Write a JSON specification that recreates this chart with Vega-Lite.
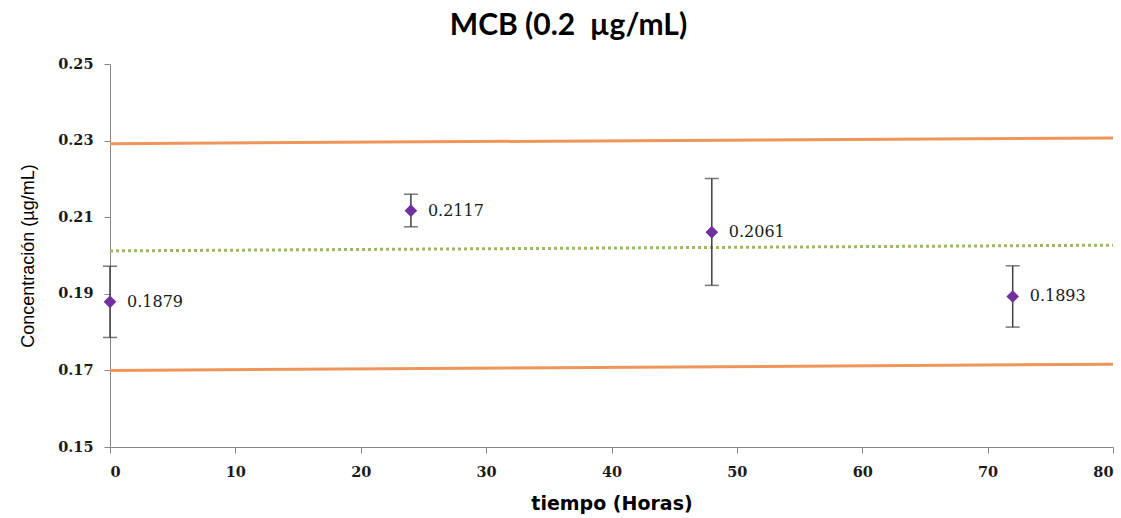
{
  "$schema": "https://vega.github.io/schema/vega-lite/v6.json",
  "width": 1003,
  "height": 383,
  "autosize": {"type": "none"},
  "padding": {"left": 110, "top": 64, "right": 8, "bottom": 71},
  "background": "white",
  "title": {
    "text": "MCB (0.2\u00a0 µg/mL)",
    "font": "Lato",
    "fontSize": 30,
    "fontWeight": "bold",
    "color": "#000000",
    "anchor": "middle",
    "frame": "group",
    "baseline": "alphabetic",
    "offset": -9,
    "dx": -43
  },
  "config": {
    "view": {"stroke": null},
    "axis": {
      "grid": false,
      "domainColor": "#868686",
      "tickColor": "#868686",
      "labelFont": "DejaVu Serif",
      "labelFontSize": 14.5,
      "labelFontWeight": "bold",
      "labelColor": "#1a1a1a",
      "tickSize": 6
    }
  },
  "datasets": {
    "pts": [
      {"t": 0, "c": 0.1879, "lo": 0.1786, "hi": 0.1972},
      {"t": 24, "c": 0.2117, "lo": 0.2075, "hi": 0.216},
      {"t": 48, "c": 0.2061, "lo": 0.1922, "hi": 0.2201},
      {"t": 72, "c": 0.1893, "lo": 0.1813, "hi": 0.1973}
    ],
    "lines": [
      {"serie": "sup", "t": 0, "v": 0.2292},
      {"serie": "sup", "t": 80, "v": 0.2307},
      {"serie": "inf", "t": 0, "v": 0.17},
      {"serie": "inf", "t": 80, "v": 0.1716},
      {"serie": "media", "t": 0, "v": 0.2012},
      {"serie": "media", "t": 80, "v": 0.2027}
    ]
  },
  "layer": [
    {
      "data": {"name": "lines"},
      "transform": [{"filter": "datum.serie != 'media'"}],
      "mark": {"type": "line", "color": "#F0955A", "strokeWidth": 3},
      "encoding": {
        "x": {
          "field": "t", "type": "quantitative",
          "scale": {"domain": [0, 80], "nice": false},
          "axis": {
            "values": [0, 10, 20, 30, 40, 50, 60, 70, 80],
            "title": "tiempo (Horas)",
            "titleFont": "DejaVu Sans",
            "titleFontSize": 19,
            "titleFontWeight": "bold",
            "titleColor": "#000000",
            "titlePadding": 16,
            "labelPadding": 12
          }
        },
        "y": {
          "field": "v", "type": "quantitative",
          "scale": {"domain": [0.15, 0.25], "nice": false, "zero": false},
          "axis": {
            "values": [0.15, 0.17, 0.19, 0.21, 0.23, 0.25],
            "format": ".2f",
            "title": "Concentración (µg/mL)",
            "titleFont": "Liberation Sans",
            "titleFontSize": 18,
            "titleFontWeight": "normal",
            "titleColor": "#000000",
            "titlePadding": 20,
            "labelPadding": 11
          }
        },
        "detail": {"field": "serie"}
      }
    },
    {
      "data": {"name": "lines"},
      "transform": [{"filter": "datum.serie == 'media'"}],
      "mark": {"type": "line", "color": "#9BBB59", "strokeWidth": 3, "strokeDash": [3, 3]},
      "encoding": {
        "x": {"field": "t", "type": "quantitative"},
        "y": {"field": "v", "type": "quantitative"}
      }
    },
    {
      "data": {"name": "pts"},
      "mark": {"type": "rule", "color": "#404040", "strokeWidth": 1.5},
      "encoding": {
        "x": {"field": "t", "type": "quantitative"},
        "y": {"field": "lo", "type": "quantitative"},
        "y2": {"field": "hi"}
      }
    },
    {
      "data": {"name": "pts"},
      "mark": {"type": "tick", "color": "#404040", "orient": "horizontal", "size": 14, "thickness": 1.5},
      "encoding": {
        "x": {"field": "t", "type": "quantitative"},
        "y": {"field": "lo", "type": "quantitative"}
      }
    },
    {
      "data": {"name": "pts"},
      "mark": {"type": "tick", "color": "#404040", "orient": "horizontal", "size": 14, "thickness": 1.5},
      "encoding": {
        "x": {"field": "t", "type": "quantitative"},
        "y": {"field": "hi", "type": "quantitative"}
      }
    },
    {
      "data": {"name": "pts"},
      "mark": {"type": "point", "shape": "diamond", "filled": true, "color": "#7030A0", "size": 160, "opacity": 1},
      "encoding": {
        "x": {"field": "t", "type": "quantitative"},
        "y": {"field": "c", "type": "quantitative"}
      }
    },
    {
      "data": {"name": "pts"},
      "mark": {"type": "text", "align": "left", "baseline": "middle", "dx": 17, "font": "DejaVu Serif", "fontSize": 16, "color": "#1a1a1a"},
      "encoding": {
        "x": {"field": "t", "type": "quantitative"},
        "y": {"field": "c", "type": "quantitative"},
        "text": {"field": "c", "type": "quantitative", "format": ".4f"}
      }
    }
  ]
}
